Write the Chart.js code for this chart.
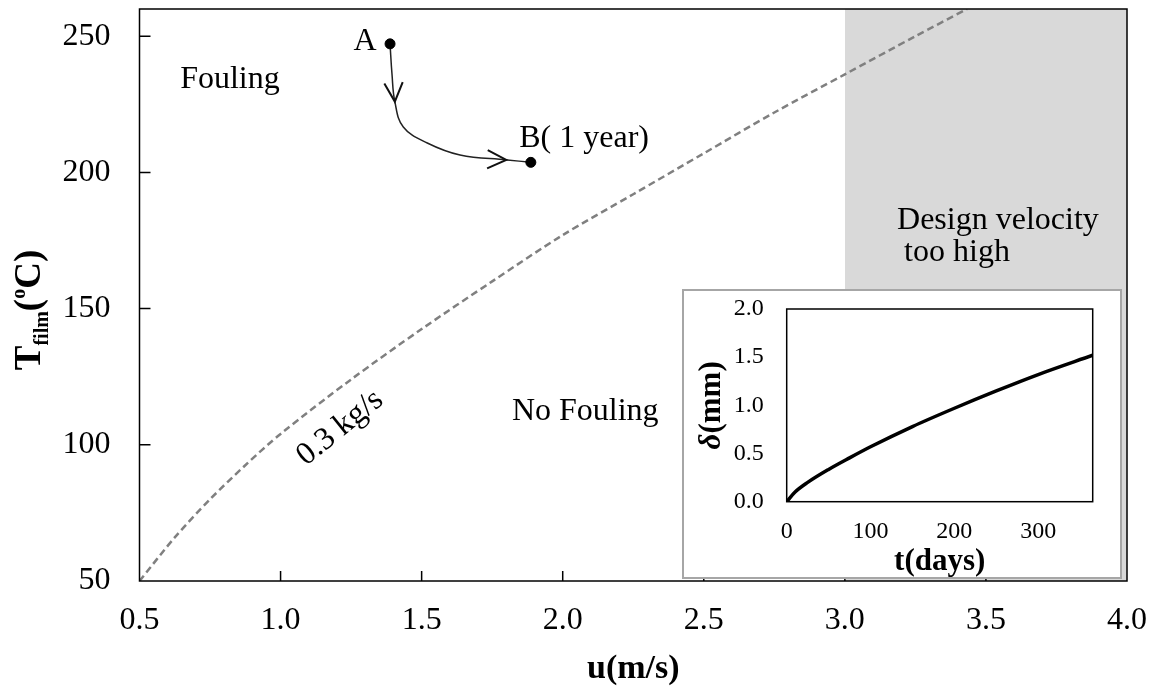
<!DOCTYPE html>
<html>
<head>
<meta charset="utf-8">
<script src="https://cdn.jsdelivr.net/npm/chart.js@4/dist/chart.umd.min.js"></script>
<style>
  html, body { margin: 0; padding: 0; background: #fff; }
  #wrap { position: relative; width: 1158px; height: 690px; }
  #mainChart { position: absolute; left: 0; top: 0; }
  #inset {
    position: absolute; left: 682px; top: 289px; width: 440px; height: 290px;
    box-sizing: border-box; border: 2px solid #a6a6a6; background: #fff;
  }
</style>
</head>
<body>
<div id="wrap">
  <canvas id="mainChart" width="1158" height="690"></canvas>
  <div id="inset"><canvas id="insetChart" width="436" height="286"></canvas></div>
</div>
<script>
// fouling threshold line, 0.3 kg/s
const velocity = [0.5, 0.625, 0.75, 0.875, 1.0, 1.25, 1.5, 1.75, 2.0, 2.25, 2.5, 2.75, 3.0, 3.25, 3.433];
const filmTemp = [50, 66, 80, 92.5, 104, 124, 142.5, 160, 177, 192, 207, 222, 236, 250, 260];

// path from A to B over one year
const pathU = [1.388, 1.395, 1.405, 1.435, 1.52, 1.636, 1.803, 1.887];
const pathT = [247.2, 236, 226, 216.7, 210.8, 206.4, 204.6, 203.7];

// end points A and B
const pointU = [1.388, 1.887];
const pointT = [247.2, 203.7];

// design velocity too high
const highU = [3.0, 4.0];
const highT = [260, 260];

// inset: deposit thickness vs time
const days = [0, 10, 25, 50, 75, 100, 150, 200, 250, 300, 365];
const thickness = [0, 0.10, 0.20, 0.335, 0.455, 0.57, 0.78, 0.97, 1.15, 1.32, 1.52];

const serif = '"Liberation Serif", "Times New Roman", serif';

const notes = [
  { text: 'A', u: 1.34, t: 248, align: 'right' },
  { text: 'Fouling', u: 0.644, t: 234, align: 'left' },
  { text: 'B( 1 year)', u: 1.846, t: 212.6, align: 'left' },
  { text: 'No Fouling', u: 1.82, t: 112.2, align: 'left' },
  { text: 'Design velocity', u: 3.185, t: 182.5, align: 'left' },
  { text: 'too high', u: 3.21, t: 170.4, align: 'left' },
  { text: '0.3 kg/s', u: 1.211, t: 106.2, align: 'center', angle: -39 }
];

const arrows = [
  { u: 1.405, t: 226, dir: 86 },
  { u: 1.80, t: 204.6, dir: 2 }
];

function toXY(arr1, arr2) {
  return arr1.map((v, i) => ({ x: v, y: arr2[i] }));
}

// keep the plot area where the axes are, no label overflow padding
function noPadX(s, h) { s.height = h; s.paddingLeft = 0; s.paddingRight = 0; }
function noPadY(s, w) { s.width = w; s.paddingTop = 0; s.paddingBottom = 0; }

const mainExtras = {
  id: 'mainExtras',
  afterDatasetsDraw(chart) {
    const ctx = chart.ctx;
    const xs = chart.scales.x, ys = chart.scales.y;
    ctx.save();
    ctx.fillStyle = '#000';
    ctx.font = '32px ' + serif;
    ctx.textBaseline = 'middle';
    notes.forEach(n => {
      const px = xs.getPixelForValue(n.u), py = ys.getPixelForValue(n.t);
      ctx.save();
      ctx.translate(px, py);
      if (n.angle) ctx.rotate(n.angle * Math.PI / 180);
      ctx.textAlign = n.align;
      ctx.fillText(n.text, 0, 0);
      ctx.restore();
    });
    // chevron arrow heads
    ctx.strokeStyle = '#111';
    ctx.lineWidth = 2;
    arrows.forEach(a => {
      const px = xs.getPixelForValue(a.u), py = ys.getPixelForValue(a.t);
      const d = a.dir * Math.PI / 180;
      const len = 21, spread = 26 * Math.PI / 180;
      ctx.beginPath();
      ctx.moveTo(px - len * Math.cos(d - spread), py - len * Math.sin(d - spread));
      ctx.lineTo(px, py);
      ctx.lineTo(px - len * Math.cos(d + spread), py - len * Math.sin(d + spread));
      ctx.stroke();
    });
    ctx.restore();
  },
  afterDraw(chart) {
    const ctx = chart.ctx;
    const a = chart.chartArea;
    const xs = chart.scales.x, ys = chart.scales.y;
    ctx.save();
    ctx.strokeStyle = '#000';
    ctx.lineWidth = 1.5;
    ctx.strokeRect(a.left, a.top, a.right - a.left, a.bottom - a.top);
    ctx.beginPath();
    xs.ticks.forEach(tk => {
      if (tk.value <= xs.min || tk.value >= xs.max) return;
      const px = xs.getPixelForValue(tk.value);
      ctx.moveTo(px, a.bottom);
      ctx.lineTo(px, a.bottom - 10);
    });
    ys.ticks.forEach(tk => {
      if (tk.value <= ys.min || tk.value >= ys.max) return;
      const py = ys.getPixelForValue(tk.value);
      ctx.moveTo(a.left, py);
      ctx.lineTo(a.left + 11, py);
    });
    ctx.stroke();

    // y title: T_film(°C)
    ctx.fillStyle = '#000';
    ctx.textBaseline = 'alphabetic';
    ctx.textAlign = 'left';
    const big = 'bold 37px ' + serif, small = 'bold 20px ' + serif;
    const parts = [
      { s: 'T', f: big, dy: 0 },
      { s: 'film', f: small, dy: 8 },
      { s: '(', f: big, dy: 0 },
      { s: 'o', f: small, dy: -15 },
      { s: 'C)', f: big, dy: 0 }
    ];
    let total = 0;
    parts.forEach(p => { ctx.font = p.f; p.w = ctx.measureText(p.s).width; total += p.w; });
    ctx.translate(40, (a.top + a.bottom) / 2 + 15);
    ctx.rotate(-Math.PI / 2);
    let x = -total / 2;
    parts.forEach(p => { ctx.font = p.f; ctx.fillText(p.s, x, p.dy); x += p.w; });
    ctx.restore();
  }
};

new Chart(document.getElementById('mainChart'), {
  type: 'scatter',
  data: {
    datasets: [
      {
        data: toXY(highU, highT),
        showLine: true,
        fill: 'start',
        backgroundColor: '#d9d9d9',
        borderWidth: 0,
        pointRadius: 0,
        order: 10
      },
      {
        data: toXY(velocity, filmTemp),
        showLine: true,
        borderColor: '#808080',
        borderWidth: 2.5,
        borderDash: [7, 4],
        tension: 0.3,
        pointRadius: 0,
        order: 5
      },
      {
        data: toXY(pathU, pathT),
        showLine: true,
        borderColor: '#222',
        borderWidth: 1.5,
        tension: 0.4,
        pointRadius: 0,
        order: 3
      },
      {
        data: toXY(pointU, pointT),
        backgroundColor: '#000',
        borderColor: '#000',
        pointRadius: 5,
        order: 1
      }
    ]
  },
  options: {
    responsive: false,
    animation: false,
    events: [],
    layout: { padding: { top: 9, right: 31, left: 0, bottom: 0 } },
    plugins: { legend: { display: false }, tooltip: { enabled: false } },
    scales: {
      x: {
        type: 'linear',
        min: 0.5,
        max: 4.0,
        afterFit: s => noPadX(s, 109),
        grid: { display: false, drawTicks: false },
        border: { display: false },
        ticks: {
          stepSize: 0.5,
          padding: 20,
          color: '#000',
          font: { family: serif, size: 32 },
          callback: v => v.toFixed(1)
        },
        title: {
          display: true,
          text: 'u(m/s)',
          color: '#000',
          font: { family: serif, size: 34, weight: 'bold', lineHeight: 1 },
          padding: { top: 0, bottom: 4 }
        }
      },
      y: {
        type: 'linear',
        min: 50,
        max: 260,
        afterFit: s => noPadY(s, 139.5),
        grid: { display: false, drawTicks: false },
        border: { display: false },
        ticks: {
          stepSize: 50,
          includeBounds: false,
          padding: 29,
          color: '#000',
          font: { family: serif, size: 32 }
        }
      }
    }
  },
  plugins: [mainExtras]
});

const insetExtras = {
  id: 'insetExtras',
  afterDraw(chart) {
    const ctx = chart.ctx;
    const a = chart.chartArea;
    ctx.save();
    ctx.strokeStyle = '#000';
    ctx.lineWidth = 1.5;
    ctx.strokeRect(a.left, a.top, a.right - a.left, a.bottom - a.top);
    // y title: δ(mm)
    ctx.fillStyle = '#000';
    ctx.textBaseline = 'middle';
    ctx.textAlign = 'left';
    const f1 = 'italic bold 31px ' + serif, f2 = 'bold 31px ' + serif;
    ctx.font = f1; const w1 = ctx.measureText('δ').width;
    ctx.font = f2; const w2 = ctx.measureText('(mm)').width;
    ctx.translate(28, (a.top + a.bottom) / 2);
    ctx.rotate(-Math.PI / 2);
    ctx.font = f1; ctx.fillText('δ', -(w1 + w2) / 2, 0);
    ctx.font = f2; ctx.fillText('(mm)', -(w1 + w2) / 2 + w1, 0);
    ctx.restore();
  }
};

new Chart(document.getElementById('insetChart'), {
  type: 'scatter',
  data: {
    datasets: [{
      data: toXY(days, thickness),
      showLine: true,
      borderColor: '#000',
      borderWidth: 3.5,
      cubicInterpolationMode: 'monotone',
      pointRadius: 0
    }]
  },
  options: {
    responsive: false,
    animation: false,
    events: [],
    layout: { padding: { top: 18, right: 27.3, left: 0, bottom: 0 } },
    plugins: { legend: { display: false }, tooltip: { enabled: false } },
    scales: {
      x: {
        type: 'linear',
        min: 0,
        max: 365,
        afterFit: s => noPadX(s, 75.3),
        grid: { display: false, drawTicks: false },
        border: { display: false },
        ticks: {
          stepSize: 100,
          includeBounds: false,
          padding: 16,
          color: '#000',
          font: { family: serif, size: 24 }
        },
        title: {
          display: true,
          text: 't(days)',
          color: '#000',
          font: { family: serif, size: 31, weight: 'bold', lineHeight: 1 },
          padding: { top: 0, bottom: 0 }
        }
      },
      y: {
        type: 'linear',
        min: 0,
        max: 2.0,
        afterFit: s => noPadY(s, 102.7),
        grid: { display: false, drawTicks: false },
        border: { display: false },
        ticks: {
          stepSize: 0.5,
          padding: 23,
          color: '#000',
          font: { family: serif, size: 24 },
          callback: v => v.toFixed(1)
        }
      }
    }
  },
  plugins: [insetExtras]
});
</script>
</body>
</html>
